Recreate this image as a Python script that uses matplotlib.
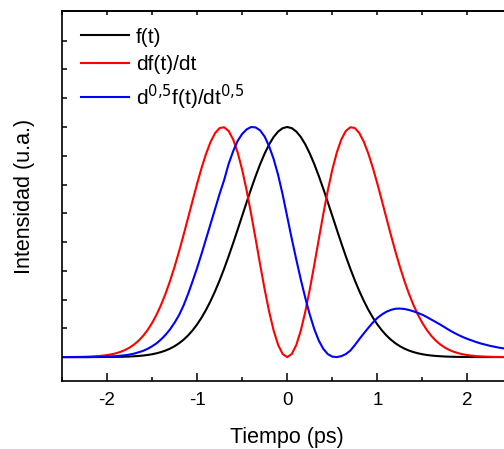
import numpy as np
import matplotlib
matplotlib.use("Agg")
import matplotlib.pyplot as plt

plt.rcParams["font.family"] = ["Liberation Sans", "DejaVu Sans"]
plt.rcParams["axes.unicode_minus"] = False

# Eje de tiempo (ps)
tiempo = np.linspace(-2.5, 2.5, 101)

# f(t)
f_t = [
    0.0000, 0.0000, 0.0000, 0.0000, 0.0000, 0.0001, 0.0001, 0.0001, 0.0002, 0.0003,
    0.0004, 0.0006, 0.0009, 0.0013, 0.0018, 0.0025, 0.0036, 0.0049, 0.0068, 0.0092,
    0.0124, 0.0166, 0.0219, 0.0286, 0.0370, 0.0475, 0.0603, 0.0758, 0.0944, 0.1164,
    0.1422, 0.1720, 0.2060, 0.2444, 0.2870, 0.3338, 0.3845, 0.4386, 0.4955, 0.5543,
    0.6141, 0.6737, 0.7319, 0.7875, 0.8390, 0.8852, 0.9249, 0.9571, 0.9807, 0.9951,
    1.0000,
    0.9951, 0.9807, 0.9571, 0.9249, 0.8852, 0.8390, 0.7875, 0.7319, 0.6737, 0.6141,
    0.5543, 0.4955, 0.4386, 0.3845, 0.3338, 0.2870, 0.2444, 0.2060, 0.1720, 0.1422,
    0.1164, 0.0944, 0.0758, 0.0603, 0.0475, 0.0370, 0.0286, 0.0219, 0.0166, 0.0124,
    0.0092, 0.0068, 0.0049, 0.0036, 0.0025, 0.0018, 0.0013, 0.0009, 0.0006, 0.0004,
    0.0003, 0.0002, 0.0001, 0.0001, 0.0001, 0.0000, 0.0000, 0.0000, 0.0000, 0.0000,
]

# df(t)/dt
df_dt = [
    0.0001, 0.0002, 0.0004, 0.0006, 0.0009, 0.0014, 0.0020, 0.0030, 0.0043, 0.0062,
    0.0087, 0.0121, 0.0167, 0.0229, 0.0309, 0.0412, 0.0546, 0.0713, 0.0920, 0.1175,
    0.1482, 0.1846, 0.2273, 0.2763, 0.3316, 0.3932, 0.4602, 0.5315, 0.6057, 0.6806,
    0.7540, 0.8230, 0.8847, 0.9360, 0.9738, 0.9956, 0.9990, 0.9826, 0.9458, 0.8890,
    0.8140, 0.7233, 0.6209, 0.5115, 0.4004, 0.2933, 0.1962, 0.1142, 0.0520, 0.0132,
    0.0000,
    0.0132, 0.0520, 0.1142, 0.1962, 0.2933, 0.4004, 0.5115, 0.6209, 0.7233, 0.8140,
    0.8890, 0.9458, 0.9826, 0.9990, 0.9956, 0.9738, 0.9360, 0.8847, 0.8230, 0.7540,
    0.6806, 0.6057, 0.5315, 0.4602, 0.3932, 0.3316, 0.2763, 0.2273, 0.1846, 0.1482,
    0.1175, 0.0920, 0.0713, 0.0546, 0.0412, 0.0309, 0.0229, 0.0167, 0.0121, 0.0087,
    0.0062, 0.0043, 0.0030, 0.0020, 0.0014, 0.0009, 0.0006, 0.0004, 0.0002, 0.0001,
]

# d^0.5 f(t)/dt^0.5
d05_dt05 = [
    0.000, 0.000, 0.000, 0.000, 0.000, 0.000, 0.000, 0.001, 0.001, 0.001,
    0.002, 0.003, 0.004, 0.006, 0.008, 0.011, 0.015, 0.021, 0.027, 0.036,
    0.047, 0.060, 0.077, 0.097, 0.121, 0.150, 0.183, 0.225, 0.275, 0.330,
    0.388, 0.450, 0.515, 0.580, 0.645, 0.710, 0.770, 0.840, 0.895, 0.940,
    0.970, 0.990, 1.000, 0.998, 0.985, 0.958, 0.915, 0.860, 0.790, 0.705,
    0.610,
    0.515, 0.425, 0.338, 0.258, 0.185, 0.122, 0.072, 0.036, 0.013, 0.002,
    0.000, 0.004, 0.013, 0.028, 0.052, 0.078, 0.103, 0.127, 0.150, 0.170,
    0.185, 0.197, 0.205, 0.210, 0.211, 0.209, 0.205, 0.199, 0.192, 0.184,
    0.174, 0.163, 0.152, 0.141, 0.129, 0.117, 0.106, 0.096, 0.087, 0.079,
    0.072, 0.065, 0.059, 0.054, 0.049, 0.045, 0.041, 0.038, 0.035, 0.032,
]

etiquetas = ["f(t)", "df(t)/dt", r"d$^{0{,}5}$f(t)/dt$^{0{,}5}$"]
colores = ["black", "red", "blue"]

fig = plt.figure(figsize=(5.04, 4.49), dpi=100)
ax = fig.add_axes([0.123, 0.1514, 0.8938, 0.824])

for serie, etiqueta, color in zip([f_t, df_dt, d05_dt05], etiquetas, colores):
    ax.plot(tiempo, serie, color=color, lw=1.5, label=etiqueta)

ax.set_xlim(-2.5, 2.5)
ax.set_ylim(-0.104, 1.504)

ax.set_xticks([-2, -1, 0, 1, 2])
ax.set_xticks(np.arange(-2.5, 2.51, 0.5), minor=True)
ax.set_yticks(np.arange(0, 1.45, 0.125))
ax.set_yticklabels([])
ax.tick_params(axis="x", which="major", direction="in", length=6, width=1.1,
               labelsize=13.5, pad=8)
ax.tick_params(axis="x", which="minor", direction="in", length=3, width=1.1)
ax.tick_params(axis="y", which="major", direction="in", length=3.5, width=1.1)

sec = ax.secondary_xaxis("top")
sec.set_xticks(np.arange(-2.5, 2.51, 0.5))
sec.set_xticklabels([])
sec.tick_params(direction="in", length=3, width=1.1)

for s in list(ax.spines.values()) + [sec.spines["top"]]:
    s.set_linewidth(1.2)

ax.set_xlabel("Tiempo (ps)", fontsize=15.5, labelpad=13)
ax.set_ylabel("Intensidad (u.a.)", fontsize=15.5, labelpad=16)

ax.legend(loc="upper left", bbox_to_anchor=(0.042, 0.955), frameon=False,
          fontsize=15, handlelength=2.3, handletextpad=0.35, labelspacing=0.4,
          borderpad=0, borderaxespad=0)

fig.savefig("out.png", dpi=100)
